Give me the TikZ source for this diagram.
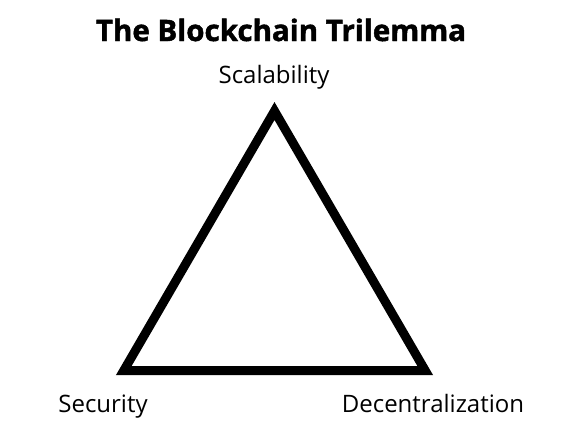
\documentclass[tikz,border=0pt]{standalone}
\usepackage{fontspec}
\setmainfont{Open Sans}
\newfontfamily\heavyfont{Open Sans}[BoldFeatures={FakeBold=1.6}]
\begin{document}
\begin{tikzpicture}[x=1pt,y=-1pt,
  lbl/.style={font=\fontsize{24}{28}\selectfont, inner sep=0pt, anchor=base},
  ttl/.style={font=\fontsize{29.5}{34}\selectfont\heavyfont\bfseries, inner sep=0pt, anchor=base}]
\useasboundingbox (0,0) rectangle (581,432);
\coordinate (top) at (274.5,111);
\coordinate (bl) at (123.8,370.5);
\coordinate (br) at (425.2,370.5);
\draw[line width=9pt, line join=miter] (top) -- (bl) -- (br) -- cycle;
\node[ttl] (title) at (281,41) {The Blockchain Trilemma};
\node[lbl] (scal) at (274,83) {Scalability};
\node[lbl] (sec) at (103,412) {Security};
\node[lbl] (dec) at (433,412) {Decentralization};
\end{tikzpicture}
\end{document}
